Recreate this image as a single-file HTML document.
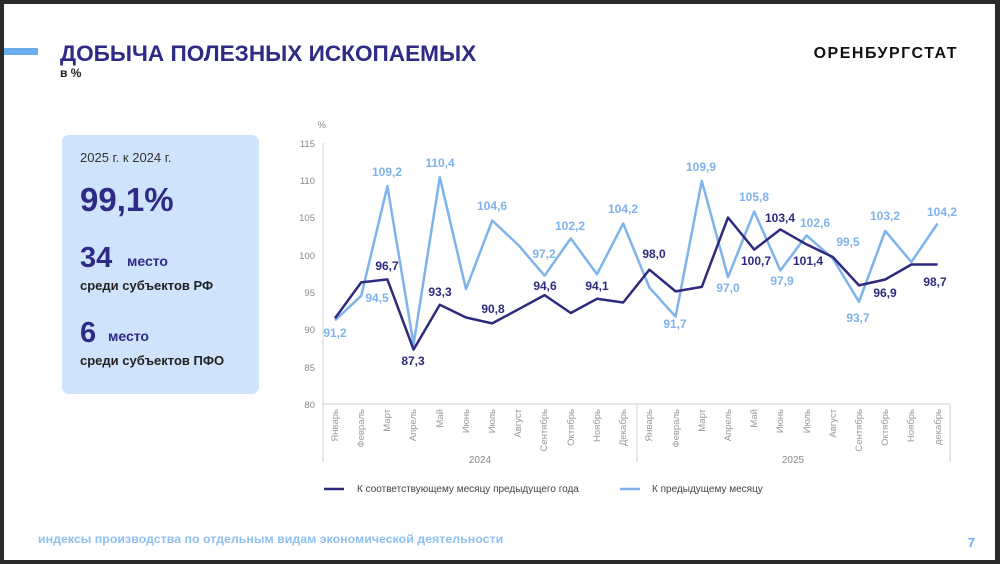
<!DOCTYPE html>
<html><head><meta charset="utf-8"><style>
html,body{margin:0;padding:0;background:#222;}
svg{display:block;font-family:"Liberation Sans",sans-serif;}
</style></head><body>
<svg width="1000" height="564" viewBox="0 0 1000 564" xmlns="http://www.w3.org/2000/svg">
<rect x="0" y="0" width="1000" height="564" fill="#2a2a2a"/>
<rect x="4" y="4" width="991" height="556" fill="#ffffff"/>
<rect x="4" y="48" width="34" height="7" fill="#6aaef0"/>
<text x="60" y="61" font-size="22.6" font-weight="bold" fill="#2e2a85">ДОБЫЧА ПОЛЕЗНЫХ ИСКОПАЕМЫХ</text>
<text x="60" y="77" font-size="12" font-weight="bold" fill="#222">в %</text>
<text x="958" y="58" font-size="16" font-weight="bold" fill="#111" text-anchor="end" letter-spacing="1.5">ОРЕНБУРГСТАТ</text>

<rect x="62" y="135" width="197" height="259" rx="7" fill="#cfe4fc"/>
<text x="80" y="162" font-size="13" fill="#333">2025 г. к 2024 г.</text>
<text x="80" y="211" font-size="33" font-weight="bold" fill="#2e2a85">99,1%</text>
<text x="80" y="267" font-size="29" font-weight="bold" fill="#2e2a85">34</text>
<text x="127" y="266" font-size="14" font-weight="bold" fill="#2e2a85">место</text>
<text x="80" y="290" font-size="13" font-weight="bold" fill="#222">среди субъектов РФ</text>
<text x="80" y="342" font-size="29" font-weight="bold" fill="#2e2a85">6</text>
<text x="108" y="341" font-size="14" font-weight="bold" fill="#2e2a85">место</text>
<text x="80" y="365" font-size="13" font-weight="bold" fill="#222">среди субъектов ПФО</text>

<g font-size="9.5" fill="#888" text-anchor="end">
<text x="326" y="128">%</text>
<text x="315" y="147">115</text>
<text x="315" y="184">110</text>
<text x="315" y="221">105</text>
<text x="315" y="259">100</text>
<text x="315" y="296">95</text>
<text x="315" y="333">90</text>
<text x="315" y="371">85</text>
<text x="315" y="408">80</text>
</g>
<g stroke="#d0d0d0" stroke-width="1" fill="none">
<line x1="323" y1="143" x2="323" y2="462"/>
<line x1="323" y1="404" x2="950" y2="404"/>
<line x1="637" y1="404" x2="637" y2="462"/>
<line x1="950" y1="404" x2="950" y2="462"/>
</g>
<g font-size="9.5" fill="#999" text-anchor="end">
<text transform="translate(338,409) rotate(-90)">Январь</text>
<text transform="translate(364,409) rotate(-90)">Февраль</text>
<text transform="translate(390,409) rotate(-90)">Март</text>
<text transform="translate(416,409) rotate(-90)">Апрель</text>
<text transform="translate(443,409) rotate(-90)">Май</text>
<text transform="translate(469,409) rotate(-90)">Июнь</text>
<text transform="translate(495,409) rotate(-90)">Июль</text>
<text transform="translate(521,409) rotate(-90)">Август</text>
<text transform="translate(547,409) rotate(-90)">Сентябрь</text>
<text transform="translate(574,409) rotate(-90)">Октябрь</text>
<text transform="translate(600,409) rotate(-90)">Ноябрь</text>
<text transform="translate(626,409) rotate(-90)">Декабрь</text>
<text transform="translate(652,409) rotate(-90)">Январь</text>
<text transform="translate(679,409) rotate(-90)">Февраль</text>
<text transform="translate(705,409) rotate(-90)">Март</text>
<text transform="translate(731,409) rotate(-90)">Апрель</text>
<text transform="translate(757,409) rotate(-90)">Май</text>
<text transform="translate(783,409) rotate(-90)">Июнь</text>
<text transform="translate(810,409) rotate(-90)">Июль</text>
<text transform="translate(836,409) rotate(-90)">Август</text>
<text transform="translate(862,409) rotate(-90)">Сентябрь</text>
<text transform="translate(888,409) rotate(-90)">Октябрь</text>
<text transform="translate(914,409) rotate(-90)">Ноябрь</text>
<text transform="translate(941,409) rotate(-90)">декабрь</text>
</g>
<g font-size="10" fill="#888" text-anchor="middle">
<text x="480" y="463">2024</text>
<text x="793" y="463">2025</text>
</g>

<polyline fill="none" stroke="#7fb3ec" stroke-width="2.5" stroke-linejoin="round" points="335,320.4 361.2,295.8 387.4,186.2 413.6,344.3 439.8,177.2 466,289.1 492.2,220.5 518.4,245.1 544.6,275.7 570.8,238.4 597,274.2 623.2,223.5 649.4,287.6 675.6,316.7 701.8,180.9 728,277.2 754.2,211.5 780.4,270.5 806.6,235.4 832.8,258.5 859,301.8 885.2,230.9 911.4,262 937.6,223.5"/>
<polyline fill="none" stroke="#2e2a7e" stroke-width="2.5" stroke-linejoin="round" points="335,318.2 361.2,282.4 387.4,279.4 413.6,349.5 439.8,304.8 466,317.5 492.2,323.4 518.4,309.3 544.6,295.1 570.8,313 597,298.8 623.2,302.5 649.4,269.7 675.6,291.4 701.8,286.9 728,217.5 754.2,249.6 780.4,229.4 806.6,244.4 832.8,257 859,285.4 885.2,279.5 911.4,264.5 937.6,264.5"/>

<g font-size="12" font-weight="bold" fill="#7fb3ec" text-anchor="middle">
<text x="335" y="337">91,2</text>
<text x="377" y="302">94,5</text>
<text x="387" y="176">109,2</text>
<text x="440" y="167">110,4</text>
<text x="492" y="210">104,6</text>
<text x="544" y="258">97,2</text>
<text x="570" y="230">102,2</text>
<text x="623" y="213">104,2</text>
<text x="675" y="328">91,7</text>
<text x="701" y="171">109,9</text>
<text x="728" y="292">97,0</text>
<text x="754" y="201">105,8</text>
<text x="782" y="285">97,9</text>
<text x="815" y="227">102,6</text>
<text x="848" y="246">99,5</text>
<text x="858" y="322">93,7</text>
<text x="885" y="220">103,2</text>
<text x="942" y="216">104,2</text>
</g>
<g font-size="12" font-weight="bold" fill="#2e2a7e" text-anchor="middle">
<text x="387" y="270">96,7</text>
<text x="413" y="365">87,3</text>
<text x="440" y="296">93,3</text>
<text x="493" y="313">90,8</text>
<text x="545" y="290">94,6</text>
<text x="597" y="290">94,1</text>
<text x="654" y="258">98,0</text>
<text x="756" y="265">100,7</text>
<text x="780" y="222">103,4</text>
<text x="808" y="265">101,4</text>
<text x="885" y="297">96,9</text>
<text x="935" y="286">98,7</text>
</g>

<line x1="324" y1="489" x2="344" y2="489" stroke="#2e2a7e" stroke-width="2.5"/>
<text x="357" y="492" font-size="10" fill="#444">К соответствующему месяцу предыдущего года</text>
<line x1="620" y1="489" x2="640" y2="489" stroke="#7fb3ec" stroke-width="2.5"/>
<text x="652" y="492" font-size="10" fill="#444">К предыдущему месяцу</text>

<text x="38" y="543" font-size="12.4" font-weight="bold" fill="#8fc0f2">индексы производства по отдельным видам экономической деятельности</text>
<text x="975" y="547" font-size="13" font-weight="bold" fill="#6aaef0" text-anchor="end">7</text>
</svg>
</body></html>
